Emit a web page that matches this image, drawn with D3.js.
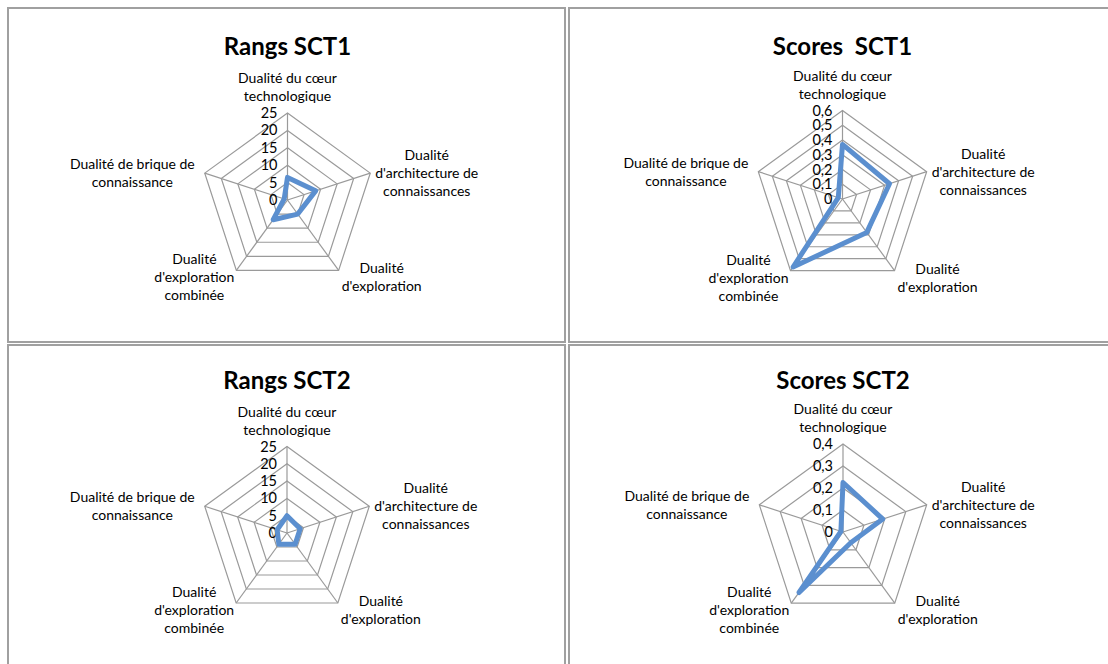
<!DOCTYPE html>
<html><head><meta charset="utf-8">
<script src="https://cdn.jsdelivr.net/npm/d3@7"></script>
<style>
body{margin:0;background:#fff;}
text{font-family:Lato,"Open Sans",sans-serif;fill:#000;}
</style>
</head><body><svg id="c" width="1108" height="664"></svg>
<script>
// ---- data ----
const axisLabels = [
  ["Dualité du cœur","technologique"],
  ["Dualité","d'architecture de","connaissances"],
  ["Dualité","d'exploration"],
  ["Dualité","d'exploration","combinée"],
  ["Dualité de brique de","connaissance"]
];
const rangsSCT1  = [6.5, 8.5, 5, 7, 1];
const scoresSCT1 = [0.37, 0.335, 0.28, 0.57, 0.03];
const rangsSCT2  = [5, 4, 4, 4, 3];
const scoresSCT2 = [0.225, 0.19, 0.06, 0.34, 0.01];
const ticksRangs   = [0,5,10,15,20,25];
const ticksScores1 = [0,0.1,0.2,0.3,0.4,0.5,0.6];
const ticksScores2 = [0,0.1,0.2,0.3,0.4];
const titles = ["Rangs SCT1","Scores  SCT1","Rangs SCT2","Scores SCT2"];

// ---- layout ----
const panels = [
  {x:8,  y:8,   w:557, h:334, cx:287.5, cy:200, r:87,   ty:55,  values:rangsSCT1,  ticks:ticksRangs},
  {x:569,y:8,   w:560, h:334, cx:842.5, cy:199, r:88.5, ty:55,  values:scoresSCT1, ticks:ticksScores1},
  {x:8,  y:345, w:557, h:340, cx:287,   cy:533, r:86.5, ty:389, values:rangsSCT2,  ticks:ticksRangs},
  {x:569,y:345, w:560, h:340, cx:843,   cy:532, r:88,   ty:389, values:scoresSCT2, ticks:ticksScores2}
];
const fr = d3.formatLocale({decimal:",",thousands:" ",grouping:[3],currency:["","€"]}).format("~g");
const svg = d3.select("#c");
const N = axisLabels.length;
const ang = i => i*2*Math.PI/N;

panels.forEach((p,pi)=>{
  svg.append("rect").attr("x",p.x).attr("y",p.y).attr("width",p.w).attr("height",p.h)
    .attr("fill","#fff").attr("stroke","#a0a0a0").attr("stroke-width",2);
  svg.append("text").attr("x",p.cx).attr("y",p.ty).attr("text-anchor","middle")
    .style("font-size","24px").style("font-weight","bold").style("white-space","pre")
    .text(titles[pi]);

  const maxV = p.ticks[p.ticks.length-1];
  const rs = d3.scaleLinear().domain([0,maxV]).range([0,p.r]);
  const g = svg.append("g").attr("transform",`translate(${p.cx},${p.cy})`);
  const radial = d3.lineRadial().angle((d,i)=>ang(i)).radius(d=>rs(d)).curve(d3.curveLinearClosed);

  // rings
  p.ticks.slice(1).forEach(t=>{
    g.append("path").attr("d",radial(d3.range(N).map(()=>t)))
      .attr("fill","none").attr("stroke","#9a9a9a").attr("stroke-width",1.2);
  });
  // spokes
  d3.range(N).forEach(i=>{
    g.append("line").attr("x1",0).attr("y1",0)
      .attr("x2",rs(maxV)*Math.sin(ang(i))).attr("y2",-rs(maxV)*Math.cos(ang(i)))
      .attr("stroke","#9a9a9a").attr("stroke-width",1.2);
  });
  // tick labels
  p.ticks.forEach(t=>{
    g.append("text").attr("x",-10).attr("y",-rs(t)+5).attr("text-anchor","end")
      .style("font-size","14.5px").text(fr(t));
  });
  // data
  g.append("path").attr("d",radial(p.values))
    .attr("fill","none").attr("stroke","#5b8fcf").attr("stroke-width",5).attr("stroke-linejoin","round");

  // axis labels
  const lh = 18;
  axisLabels.forEach((lines,i)=>{
    const a = ang(i), s = Math.sin(a), c = Math.cos(a);
    const vx = rs(maxV)*s, vy = -rs(maxV)*c;
    const t = g.append("text").attr("text-anchor","middle").style("font-size","14px");
    lines.forEach((l,k)=>t.append("tspan").attr("x",0).attr("dy",k?lh:0).text(l));
    const w = t.node().getBBox().width;
    const n = lines.length;
    let x, y0;
    if (Math.abs(s) < 0.1) { x = vx; y0 = vy - 9 - (n-1)*lh - 3; }
    else if (c > 0) { // upper side
      x = s>0 ? vx + 5 + w/2 : vx - 10 - w/2;
      y0 = vy - (n-1)*lh/2 + 5;
    } else {
      x = s>0 ? vx + 3 + w/2 : vx - 2 - w/2;
      y0 = vy + 7 - (n-1)*lh/2 + 5;
    }
    t.attr("transform",`translate(${x},${y0})`);
  });
});
</script></body></html>
